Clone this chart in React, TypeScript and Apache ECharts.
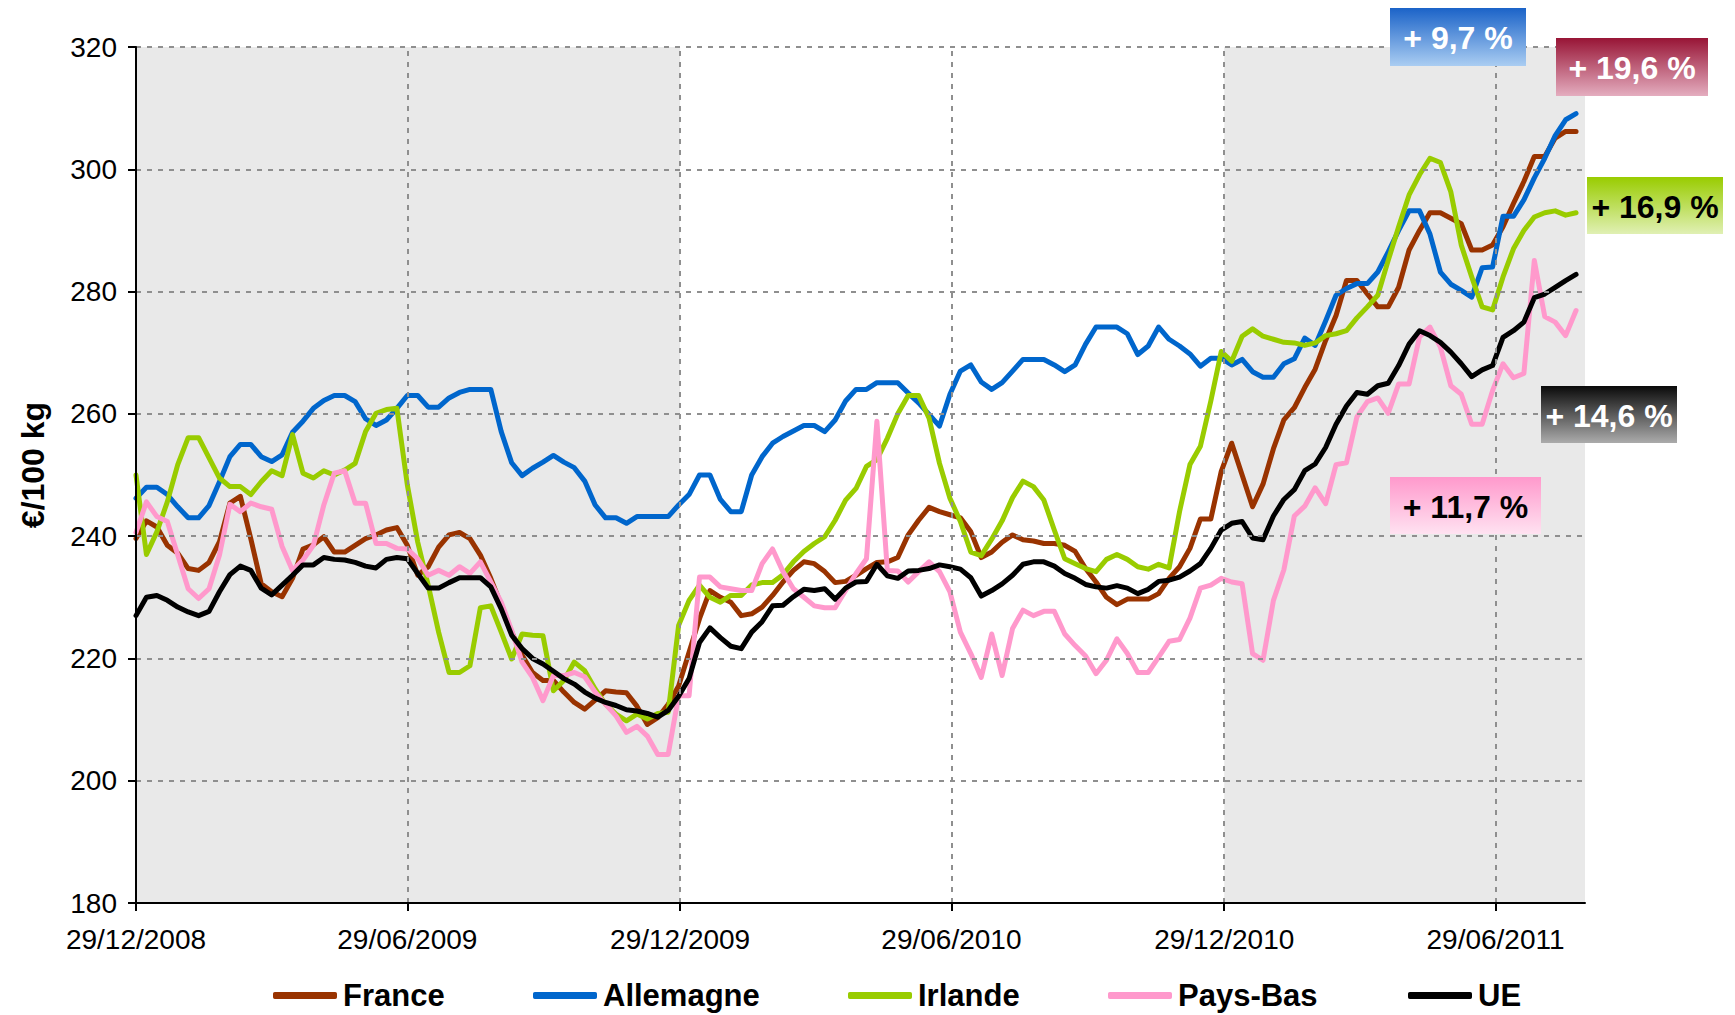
import React, { useEffect, useRef } from "react";
import * as echarts from "echarts";

// ---------- data ----------
const seriesNames = ["France", "Allemagne", "Irlande", "Pays-Bas", "UE"];
const tickDays = [0, 182, 365, 547, 730, 912];
const tickLabels = ["29/12/2008", "29/06/2009", "29/12/2009", "29/06/2010", "29/12/2010", "29/06/2011"];
const gridValues = [200, 220, 240, 260, 280, 300, 320];
const changeLabels = ["+ 9,7 %", "+ 19,6 %", "+ 16,9 %", "+ 14,6 %", "+ 11,7 %"];

const france = [
  239.6, 242.5, 241.5, 238.5, 237.2, 234.7, 234.4, 235.7, 239.1, 245.4,
  246.5, 239.6, 232.2, 230.9, 230.1, 233.1, 237.9, 238.6, 239.9, 237.4,
  237.4, 238.5, 239.6, 240.2, 241, 241.4, 238.5, 233.6, 235, 238.2,
  240.2, 240.6, 239.6, 236.9, 233.1, 228.7, 224.3, 220.5, 217.7, 216.4,
  216.4, 214.5, 212.8, 211.7, 213.2, 214.7, 214.5, 214.4, 212.2, 209.2,
  210.3, 212.5, 215.5, 221, 226.5, 231.1, 230, 229.2, 227, 227.3,
  228.4, 230.3, 232.5, 234.4, 235.8, 235.5, 234.2, 232.4, 232.6, 233.6,
  234.7, 235.7, 235.8, 236.5, 240.2, 242.6, 244.7, 244, 243.5, 243,
  240.7, 236.5, 237.4, 239, 240.2, 239.4, 239.2, 238.8, 238.8, 238.5,
  237.5, 234.7, 232.5, 230, 228.8, 229.7, 229.7, 229.7, 230.6, 233.1,
  235, 238, 242.8, 242.8, 250.6, 255.2, 250, 244.8, 248.5, 254.3,
  259, 261, 264.3, 267.3, 272, 276.1, 281.8, 281.8, 279.6, 277.5,
  277.5, 280.7, 286.8, 290, 292.9, 292.9, 292, 291.1, 286.8, 286.8,
  287.6, 290.6, 294.4, 298, 302.1, 302.1, 305.1, 306.2, 306.2,
];
const allemagne = [
  246.2, 248, 248, 246.8, 244.8, 243, 243, 245, 248.9, 253,
  255, 255, 253, 252.2, 253.3, 257, 258.8, 260.9, 262.2, 263,
  263, 262, 259.2, 258.1, 259, 260.9, 263, 263, 261.1, 261.1,
  262.6, 263.5, 264, 264, 264, 257.1, 252, 249.9, 251.1, 252.1,
  253.2, 252.1, 251.2, 249, 245.1, 243, 243, 242.1, 243.2, 243.2,
  243.2, 243.2, 245.1, 246.8, 250, 250, 246, 244, 244, 250,
  253, 255.2, 256.3, 257.2, 258.1, 258.1, 257.1, 259, 262.1, 264,
  264, 265.1, 265.1, 265.1, 263.4, 261.8, 259.9, 258, 263.2, 267,
  268, 265.2, 264, 265.1, 267, 268.9, 268.9, 268.9, 268, 266.9,
  268, 271.4, 274.2, 274.2, 274.2, 273.1, 269.7, 271.1, 274.2, 272.2,
  271.1, 269.8, 267.8, 269.1, 269.1, 268, 268.9, 266.9, 266, 266,
  268.2, 269, 272.4, 271.2, 275.2, 279.4, 280.5, 281.3, 281.3, 283.2,
  286.5, 290, 293.2, 293.2, 289.4, 283.2, 281.2, 280.2, 279.1, 283.9,
  284, 292.3, 292.3, 295, 298.6, 301.8, 305.5, 308.1, 309.1,
];
const irlande = [
  250, 237, 240.7, 245.6, 251.7, 256.1, 256.1, 252.8, 249.5, 248.1,
  248.1, 246.8, 248.9, 250.7, 249.9, 256.6, 250.3, 249.5, 250.7, 250,
  250.8, 251.9, 257.1, 260.1, 260.7, 260.9, 248.4, 239, 232, 224.3,
  217.7, 217.7, 218.8, 228.3, 228.6, 224.3, 219.9, 224, 223.8, 223.7,
  214.7, 216.4, 219.4, 218, 215, 212.5, 210.9, 209.8, 210.9, 210.1,
  211, 211.2, 225.4, 229.5, 232, 230, 229.2, 230.3, 230.3, 232,
  232.4, 232.4, 233.7, 235.8, 237.5, 238.8, 239.9, 242.6, 245.9, 247.8,
  251.4, 252.5, 256, 260, 263, 263, 259.3, 251.9, 246.2, 242.4,
  237.4, 236.8, 239.5, 242.5, 246.3, 249, 248.1, 245.9, 241, 236.3,
  235.5, 234.7, 234.2, 236.2, 237, 236.2, 235, 234.6, 235.4, 234.8,
  244, 251.7, 254.7, 262.1, 270.2, 268.6, 272.7, 273.9, 272.7, 272.2,
  271.7, 271.6, 271.2, 271.6, 272.8, 273.1, 273.6, 275.7, 277.5, 279.4,
  285.1, 290.6, 295.8, 299.1, 301.8, 301.1, 296.3, 287.6, 282.4, 277.5,
  277, 282.4, 287, 290, 292.2, 292.9, 293.2, 292.5, 292.9,
];
const paysBas = [
  240.6, 245.6, 243.2, 242.4, 236.9, 231.4, 229.8, 231.4, 236.9, 245.2,
  244, 245.4, 244.8, 244.4, 238.3, 234.4, 236.1, 238.5, 245.1, 250.3,
  250.7, 245.4, 245.4, 238.8, 238.8, 238, 237.9, 236.3, 233.6, 234.4,
  233.6, 235, 233.9, 235.8, 232.5, 229.2, 224.6, 219.4, 216.9, 213.1,
  217.2, 217.2, 217.7, 217, 214.5, 212.5, 210.6, 207.9, 208.9, 207.3,
  204.3, 204.3, 213.9, 213.9, 233.3, 233.3, 231.7, 231.4, 231.1, 231.1,
  235.5, 237.9, 234.2, 231.4, 230, 228.6, 228.3, 228.3, 231.1, 233.9,
  236.3, 258.8, 234.4, 234.3, 232.5, 234.2, 235.8, 234.2, 230.9, 224.3,
  220.8, 216.9, 224, 217.2, 224.9, 227.9, 227, 227.7, 227.7, 224,
  222.1, 220.4, 217.5, 219.7, 223.2, 220.8, 217.7, 217.7, 220.2, 222.8,
  223.1, 226.6, 231.5, 232, 233.1, 232.5, 232.2, 220.8, 219.7, 229.5,
  234.5, 243.3, 244.9, 247.9, 245.3, 251.7, 252, 259.5, 262, 262.6,
  260.1, 264.9, 264.9, 272.6, 274.2, 270.9, 264.6, 263.2, 258.3, 258.3,
  263.8, 268.2, 265.9, 266.6, 285.1, 275.9, 275, 272.8, 276.9,
];
const ue = [
  227, 230, 230.3, 229.5, 228.4, 227.6, 227, 227.7, 230.9, 233.7,
  235.1, 234.4, 231.5, 230.4, 232, 233.6, 235.3, 235.3, 236.5, 236.2,
  236.1, 235.7, 235.1, 234.8, 236.2, 236.5, 236.3, 233.9, 231.5, 231.5,
  232.4, 233.2, 233.2, 233.2, 231.7, 228.1, 223.8, 221.6, 220, 219.1,
  217.9, 216.7, 215.8, 214.5, 213.5, 212.8, 212.3, 211.6, 211.4, 211,
  210.4, 211.5, 213.8, 216.7, 222.6, 225, 223.4, 222, 221.6, 224.3,
  226, 228.6, 228.7, 230.1, 231.3, 231.1, 231.4, 229.7, 231.5, 232.5,
  232.6, 235.4, 233.5, 233.1, 234.3, 234.4, 234.7, 235.3, 235, 234.6,
  233.2, 230.2, 231.1, 232.2, 233.6, 235.4, 235.8, 235.8, 235.1, 233.9,
  233.1, 232.1, 231.7, 231.5, 231.9, 231.5, 230.6, 231.3, 232.6, 232.8,
  233.3, 234.3, 235.5, 238, 241, 242.1, 242.4, 239.7, 239.4, 243.3,
  246, 247.6, 250.7, 251.8, 254.5, 258.3, 261.3, 263.5, 263.2, 264.6,
  265, 267.9, 271.4, 273.6, 272.8, 271.7, 270.1, 268.2, 266.1, 267.2,
  267.9, 272.5, 273.6, 275, 279, 279.6, 280.7, 281.8, 282.8,
];
const seriesValues = [france, allemagne, irlande, paysBas, ue];

// ---------- styles / layout ----------
const FONT = "'Liberation Sans', Arial, Helvetica, sans-serif";
const seriesColors = ["#993300", "#0066CC", "#99CC00", "#FF99CC", "#000000"];
const legendLefts = [273, 533, 848, 1108, 1408];
const boxes = [
  { x: 1390, y: 8, w: 136, h: 58, c0: "#1b63c8", c1: "#aacdf2", fg: "#ffffff" },
  { x: 1556, y: 38, w: 152, h: 58, c0: "#981536", c1: "#e4adbf", fg: "#ffffff" },
  { x: 1587, y: 177, w: 136, h: 57, c0: "#99cc00", c1: "#e0f0b4", fg: "#000000" },
  { x: 1541, y: 386, w: 136, h: 57, c0: "#0a0a0a", c1: "#ababab", fg: "#ffffff" },
  { x: 1390, y: 477, w: 151, h: 57, c0: "#ff99cc", c1: "#ffe2f1", fg: "#000000" },
];

const GRID = { left: 136, top: 47, width: 1449, height: 856 };
const X_MAX = 972;

function labelFor(v: number): string {
  for (let i = 0; i < tickDays.length; i++) {
    if (Math.abs(v - tickDays[i]) < 2) return tickLabels[i];
  }
  return "";
}

export default function App() {
  const ref = useRef<HTMLDivElement>(null);

  useEffect(() => {
    if (!ref.current) return;
    const chart = echarts.init(ref.current, null, { renderer: "svg" });

    const dataSeries = seriesNames.map((name, k) => ({
      name,
      type: "line",
      z: 3,
      showSymbol: false,
      symbol: "none",
      smooth: false,
      silent: true,
      color: seriesColors[k],
      lineStyle: { width: 5, color: seriesColors[k], join: "round", cap: "round" },
      data: seriesValues[k].map((v, i) => [i * 7, v]),
    }));

    const graphics: any[] = [];
    graphics.push({
      type: "text",
      x: 33,
      y: 465,
      rotation: Math.PI / 2,
      z: 50,
      style: {
        text: "€/100 kg",
        fontSize: 32,
        fontWeight: "bold",
        fontFamily: FONT,
        fill: "#000",
        align: "center",
        verticalAlign: "middle",
        textAlign: "center",
        textVerticalAlign: "middle",
      },
    });
    boxes.forEach((b, i) => {
      graphics.push({
        type: "rect",
        x: b.x,
        y: b.y,
        z: 60,
        shape: { x: 0, y: 0, width: b.w, height: b.h },
        style: {
          fill: new echarts.graphic.LinearGradient(0, 0, 0, 1, [
            { offset: 0, color: b.c0 },
            { offset: 1, color: b.c1 },
          ]),
        },
      });
      graphics.push({
        type: "text",
        x: b.x + b.w / 2,
        y: b.y + b.h / 2 + 1,
        z: 61,
        style: {
          text: changeLabels[i],
          fontSize: 32,
          fontWeight: "bold",
          fontFamily: FONT,
          fill: b.fg,
          align: "center",
          verticalAlign: "middle",
          textAlign: "center",
          textVerticalAlign: "middle",
        },
      });
    });

    const option: any = {
      animation: false,
      backgroundColor: "#ffffff",
      textStyle: { fontFamily: FONT },
      grid: { ...GRID, containLabel: false },
      xAxis: {
        type: "value",
        min: 0,
        max: X_MAX,
        interval: 182.4,
        z: 5,
        axisLine: { show: true, onZero: false, lineStyle: { color: "#000", width: 2 } },
        axisTick: {
          show: true,
          inside: false,
          length: 8,
          customValues: tickDays,
          lineStyle: { color: "#000", width: 2 },
        },
        axisLabel: {
          customValues: tickDays,
          formatter: (v: number) => labelFor(v),
          fontSize: 28,
          fontFamily: FONT,
          color: "#000",
          margin: 22,
          showMinLabel: true,
          showMaxLabel: true,
          hideOverlap: false,
        },
        splitLine: { show: false },
      },
      yAxis: {
        type: "value",
        min: 180,
        max: 320,
        interval: 20,
        z: 5,
        axisLine: { show: true, onZero: false, lineStyle: { color: "#000", width: 2 } },
        axisTick: { show: true, inside: false, length: 8, lineStyle: { color: "#000", width: 2 } },
        axisLabel: { fontSize: 28, fontFamily: FONT, color: "#000", margin: 19 },
        splitLine: { show: false },
      },
      legend: seriesNames.map((n, i) => ({
        data: [n],
        left: legendLefts[i],
        top: 980,
        padding: 0,
        icon: "roundRect",
        itemWidth: 64,
        itemHeight: 7,
        itemGap: 0,
        selectedMode: false,
        textStyle: { fontSize: 31, fontWeight: "bold", fontFamily: FONT, color: "#000", padding: [0, 0, 0, 1] },
      })),
      graphic: graphics,
      series: [
        {
          name: "bands",
          type: "line",
          data: [],
          z: 1,
          silent: true,
          markArea: {
            silent: true,
            itemStyle: { color: "#e9e9e9" },
            label: { show: false },
            data: [
              [{ xAxis: tickDays[0] }, { xAxis: tickDays[2] }],
              [{ xAxis: tickDays[4] }, { xAxis: X_MAX }],
            ],
          },
        },
        {
          name: "gridlines",
          type: "line",
          data: [],
          z: 2,
          silent: true,
          markLine: {
            silent: true,
            symbol: ["none", "none"],
            label: { show: false },
            lineStyle: { color: "#8f8f8f", width: 2, type: [5, 6] },
            data: [
              ...tickDays.slice(1).map((d) => ({ xAxis: d })),
              ...gridValues.map((v) => ({ yAxis: v })),
            ],
          },
        },
        ...dataSeries,
      ],
    };

    chart.setOption(option);
    return () => chart.dispose();
  }, []);

  return (
    <div
      ref={ref}
      style={{ position: "absolute", left: 0, top: 0, width: 1735, height: 1015, background: "#fff" }}
    />
  );
}
